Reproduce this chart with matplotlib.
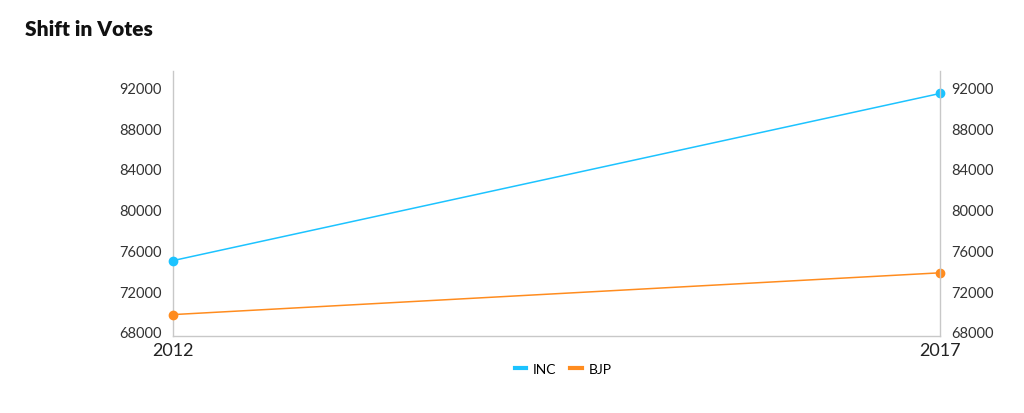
import matplotlib
matplotlib.use("Agg")
import matplotlib.pyplot as plt

# data
years = ["2012", "2017"]
inc_votes = [75000, 91400]
bjp_votes = [69700, 73800]
y_ticks = [68000, 72000, 76000, 80000, 84000, 88000, 92000]

plt.rcParams['font.family'] = ['Lato', 'DejaVu Sans']

fig = plt.figure(figsize=(10.24, 4.14), dpi=100)
ax = fig.add_axes([0.169, 0.186, 0.749, 0.640])

x = list(range(len(years)))
ax.plot(x, inc_votes, color='#1cc3ff', lw=1.1, marker='o', ms=6, label='INC', clip_on=False, zorder=3)
ax.plot(x, bjp_votes, color='#ff8c1f', lw=1.1, marker='o', ms=6, label='BJP', clip_on=False, zorder=3)

ax.set_xlim(0, 1)
ax.set_ylim(67600, 93600)
ax.set_xticks(x)
ax.set_xticklabels(years, fontsize=13, color='#222222')
ax.set_yticks(y_ticks)
ax.set_yticklabels([str(v) for v in y_ticks], fontsize=10.5, color='#333333')
ax.tick_params(length=0, pad=8)
ax.tick_params(axis='x', pad=4)

# right axis mirrors the left one
ax2 = ax.twinx()
ax2.set_ylim(ax.get_ylim())
ax2.set_yticks(y_ticks)
ax2.set_yticklabels([str(v) for v in y_ticks], fontsize=10.5, color='#333333')
ax2.tick_params(length=0, pad=8)

for a in (ax, ax2):
    for s in a.spines.values():
        s.set_visible(False)
ax.spines['left'].set_visible(True)
ax.spines['bottom'].set_visible(True)
ax2.spines['right'].set_visible(True)
for s in (ax.spines['left'], ax.spines['bottom'], ax2.spines['right']):
    s.set_color('#c8c8c8')
    s.set_linewidth(1)

fig.text(0.024, 0.928, 'Shift in Votes', fontsize=15, fontweight='heavy', color='#111111', va='center')

fig.legend(loc='center', bbox_to_anchor=(0.55, 0.107), ncol=2, frameon=False,
           fontsize=10, handlelength=0.8, handletextpad=0.5, columnspacing=1.0)
leg = fig.legends[0]
for h in leg.legend_handles:
    h.set_marker('')
    h.set_linewidth(3)

fig.savefig('out.png', dpi=100)
